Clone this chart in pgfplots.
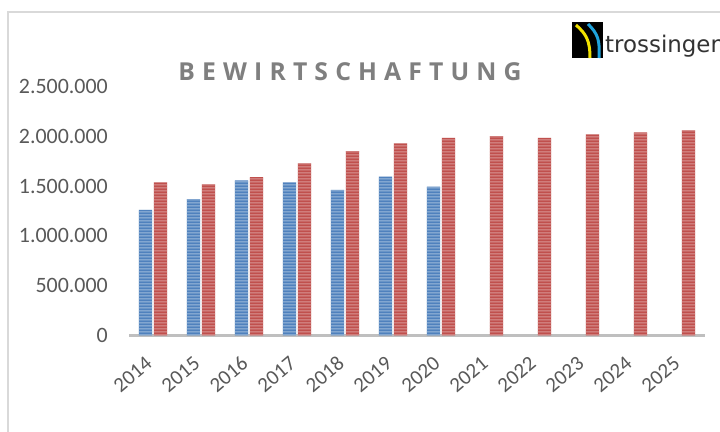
\documentclass[border=0pt]{standalone}
\usepackage{pgfplots}
\pgfplotsset{compat=1.18}
\usepackage{fontspec}
\setmainfont{Carlito}
\newfontfamily\titlefont[LetterSpace=29]{Open Sans}
\newfontfamily\logofont{DejaVu Sans}
\usetikzlibrary{patterns}
\pgfdeclarepatternformonly{hstripes}{\pgfpointorigin}{\pgfpoint{60bp}{3bp}}{\pgfpoint{60bp}{3bp}}{
  \pgfpathrectangle{\pgfpoint{-1bp}{0.9bp}}{\pgfpoint{62bp}{1.3bp}}
  \pgfusepath{fill}
}
\definecolor{barblue}{HTML}{4F81BD}
\definecolor{barred}{HTML}{C0504D}
\definecolor{ticktext}{HTML}{595959}
\definecolor{framegray}{HTML}{D9D9D9}
\definecolor{axisgray}{HTML}{BFBFBF}
\definecolor{titlegray}{HTML}{7F7F7F}
\definecolor{logoyellow}{HTML}{F2E200}
\definecolor{logoblue}{HTML}{1FA3DC}
\pgfplotstableread{
x ist
0 1260000
1 1367000
2 1557000
3 1537000
4 1460000
5 1593000
6 1493000
}\isttable
\pgfplotstableread{
x plan
0 1537000
1 1517000
2 1590000
3 1727000
4 1850000
5 1927000
6 1983000
7 2000000
8 1983000
9 2017000
10 2037000
11 2057000
}\plantable
\begin{document}
\begin{tikzpicture}
\useasboundingbox (0,0) rectangle (720bp,432bp);
\fill[white] (0,0) rectangle (720bp,432bp);
\begin{scope}[x=1bp,y=1bp]
\clip (0,0) rectangle (720,432);
\draw[framegray, line width=1.5bp] (8,0) -- (8,420) -- (722,420);
\fill[black] (572,374) rectangle (603,410);
\draw[logoyellow, line width=3bp] (576,407) .. controls (586,398) and (590,392) .. (590,374);
\draw[logoblue, line width=3bp] (588,408) .. controls (598,398) and (600,392) .. (599,374);
\node[anchor=base west, inner sep=0pt, font=\logofont\fontsize{23}{23}\selectfont, text=black!80] at (605,380) {trossingen};
\node[font=\titlefont\bfseries\fontsize{24.8}{28}\selectfont, text=titlegray] at (350,360) {BEWIRTSCHAFTUNG};
\end{scope}
\begin{axis}[
  at={(129bp,96.5bp)}, anchor=south west,
  scale only axis, width=576bp, height=249.2bp,
  xmin=-0.5, xmax=11.5, ymin=0, ymax=2500000,
  axis x line*=bottom, axis y line*=left,
  y axis line style={draw=none},
  x axis line style={axisgray, line width=2.5bp},
  major tick length=0pt,
  ytick={0,500000,1000000,1500000,2000000,2500000},
  scaled y ticks=false,
  /pgf/number format/fixed,
  /pgf/number format/precision=0,
  /pgf/number format/1000 sep={.},
  /pgf/number format/assume math mode=true,
  tick label style={font=\fontsize{22}{26}\selectfont, text=ticktext},
  yticklabel style={anchor=east, inner sep=0pt, xshift=-21bp},
  xtick={0,...,11},
  xticklabels={2014,2015,2016,2017,2018,2019,2020,2021,2022,2023,2024,2025},
  xticklabel style={font=\fontsize{21}{24}\selectfont, anchor=east, inner sep=0pt, xshift=-4bp, rotate=40},
  xticklabel shift=25bp,
  clip=false,
]
\addplot[ybar, bar width=13.4bp, bar shift=-7.5bp, draw=none, fill=barblue,
  postaction={pattern=hstripes, pattern color=white!45!barblue}]
  table[x=x, y=ist] {\isttable};
\addplot[ybar, bar width=13.4bp, bar shift=7.5bp, draw=none, fill=barred,
  postaction={pattern=hstripes, pattern color=white!40!barred}]
  table[x=x, y=plan] {\plantable};
\end{axis}
\end{tikzpicture}
\end{document}
